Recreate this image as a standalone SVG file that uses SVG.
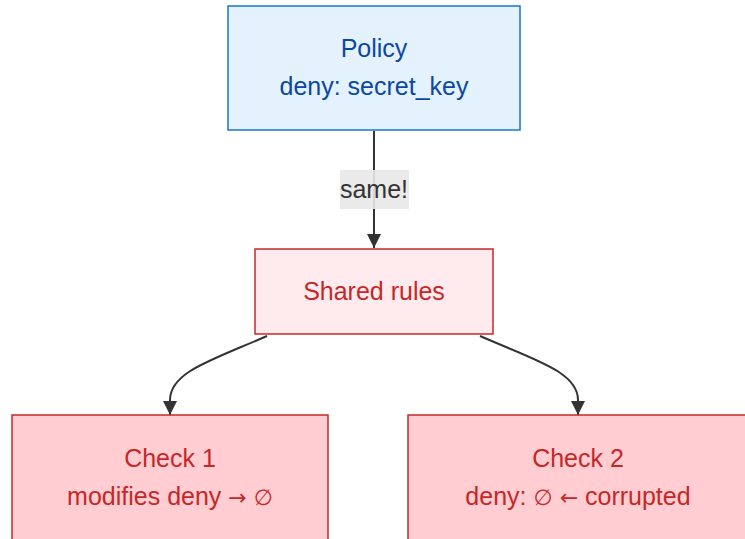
<svg xmlns="http://www.w3.org/2000/svg" width="745" height="539" viewBox="0 0 745 539">
<style>
text{font-family:"Liberation Sans",Arial,sans-serif;font-size:25px;text-anchor:middle}
.sym{font-family:"DejaVu Sans",sans-serif;font-size:22px}
.blue rect{fill:#e3f2fd;stroke:#1976d2;stroke-width:1.5}
.blue text{fill:#0d47a1}
.pale rect{fill:#ffebee;stroke:#c62828;stroke-width:1.5}
.red rect{fill:#ffcdd2;stroke:#c62828;stroke-width:1.5}
.pale text,.red text{fill:#c62828}
.edge{fill:none;stroke:#333;stroke-width:2}
.lbl{fill:#e8e8e8;opacity:0.9}
.lt{fill:#333}
</style>
<defs>
<marker id="arr" viewBox="0 0 14 14" refX="14" refY="7" markerWidth="14" markerHeight="14" markerUnits="userSpaceOnUse" orient="auto">
<path d="M0,0 L14,7 L0,14 z" fill="#333"/>
</marker>
</defs>
<rect width="745" height="539" fill="#fff"/>
<g id="connectors">
<path class="edge" d="M374,131 L374,248" marker-end="url(#arr)"/>
<path class="edge" d="M267,336 C212,360 170,372 170,400 L170,415" marker-end="url(#arr)"/>
<path class="edge" d="M480,336 C535,360 578,372 578,400 L578,415" marker-end="url(#arr)"/>
<rect class="lbl" x="340" y="170" width="69" height="39"/>
<text class="lt" x="374" y="198">same!</text>
</g>
<g id="policy" class="blue">
<rect x="228" y="6" width="292" height="124"/>
<text x="374" y="57">Policy</text>
<text x="374" y="95">deny: secret_key</text>
</g>
<g id="shared" class="pale">
<rect x="255" y="249" width="238" height="85"/>
<text x="374" y="300">Shared rules</text>
</g>
<g id="check1" class="red">
<rect x="12" y="415" width="316" height="125"/>
<text x="170" y="467">Check 1</text>
<text x="170" y="505">modifies deny <tspan class="sym">→ ∅</tspan></text>
</g>
<g id="check2" class="red">
<rect x="408" y="415" width="342" height="125"/>
<text x="578" y="467">Check 2</text>
<text x="578" y="505">deny: <tspan class="sym">∅ ←</tspan> corrupted</text>
</g>
</svg>
